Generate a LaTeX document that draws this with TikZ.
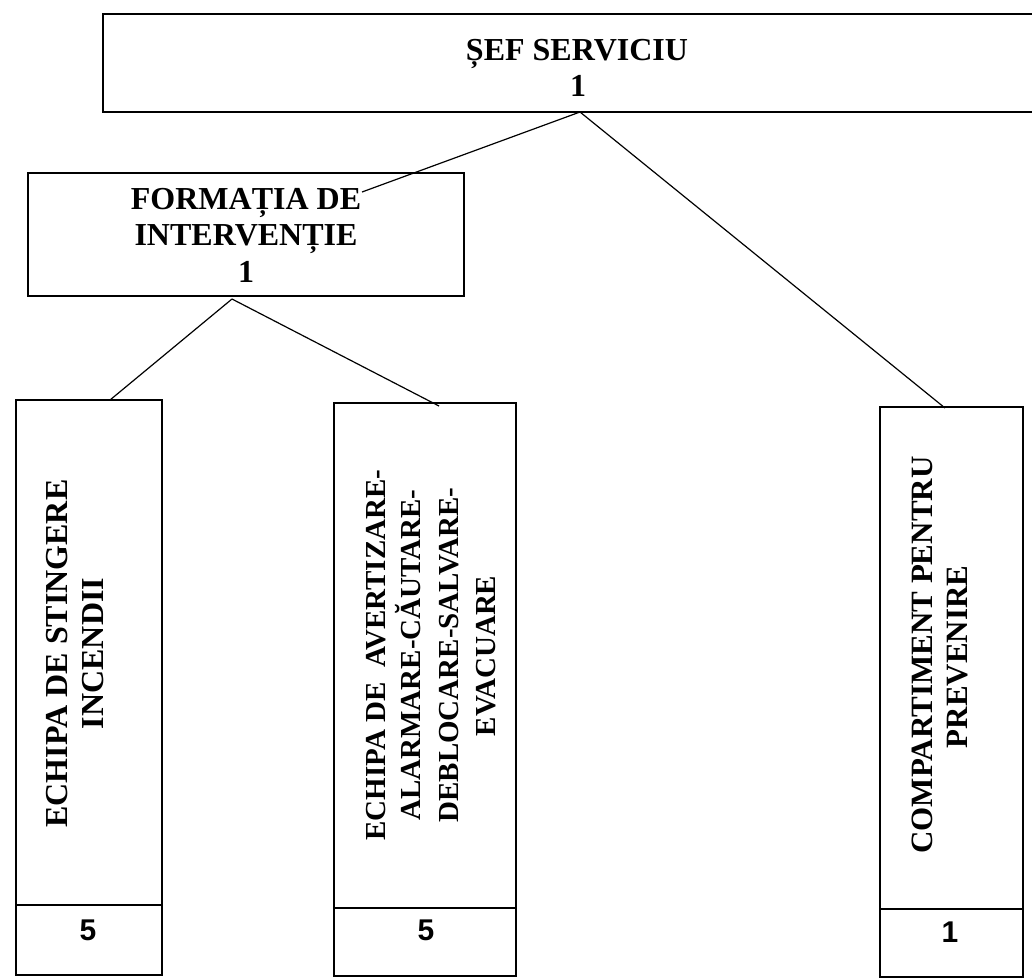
\documentclass[tikz,border=0pt]{standalone}
\usepackage{fontspec}
\setmainfont{Liberation Serif}
\newfontfamily\digitfont{Liberation Sans}
\begin{document}
\begin{tikzpicture}[x=1pt,y=-1pt,
  box/.style={draw=black, line width=1.8pt, inner sep=0pt, outer sep=0pt, rectangle},
  conn/.style={draw=black, line width=1.2pt},
  ttl/.style={font=\fontsize{32}{38}\selectfont\bfseries, inner sep=0pt, anchor=base},
  rotbig/.style={font=\fontsize{32}{38}\selectfont\bfseries, inner sep=0pt, anchor=base, rotate=90},
  rotmid/.style={font=\fontsize{29}{36}\selectfont\bfseries, inner sep=0pt, anchor=base, rotate=90},
  rotrgt/.style={font=\fontsize{31}{36}\selectfont\bfseries, inner sep=0pt, anchor=base, rotate=90},
  digit/.style={font=\fontsize{30}{36}\selectfont\digitfont\bfseries, inner sep=0pt, anchor=base}]
\useasboundingbox (0,0) rectangle (1032,978);
\clip (0,0) rectangle (1032,978);
\fill[white] (0,0) rectangle (1032,978);

% top box
\node[box, minimum width=948pt, minimum height=98pt] (sef) at (577,63) {};
\node[ttl] (sefa) at (577,60) {ȘEF SERVICIU};
\node[ttl] (sefb) at (578,96) {1};

% formatia box
\node[box, minimum width=436pt, minimum height=123pt] (form) at (246,234.5) {};
\node[ttl] (forma) at (246,209) {FORMAȚIA DE};
\node[ttl] (formb) at (246,245) {INTERVENȚIE};
\node[ttl] (formc) at (246,282) {1};

% left tall box
\node[box, minimum width=146pt, minimum height=505pt] (b1) at (89,652.5) {};
\node[box, minimum width=146pt, minimum height=70pt] (c1) at (89,940) {};
\node[rotbig] (b1a) at (67,653.5) {ECHIPA DE STINGERE};
\node[rotbig] (b1b) at (103,653.5) {INCENDII};
\node[digit] (c1a) at (88,940) {5};

% middle tall box
\node[box, minimum width=182pt, minimum height=505pt] (b2) at (425,655.5) {};
\node[box, minimum width=182pt, minimum height=68pt] (c2) at (425,942) {};
\node[rotmid] (b2a) at (385,655) {ECHIPA DE~~AVERTIZARE-};
\node[rotmid] (b2b) at (420,655) {ALARMARE-CĂUTARE-};
\node[rotmid] (b2c) at (458,655) {DEBLOCARE-SALVARE-};
\node[rotmid] (b2d) at (495,656) {EVACUARE};
\node[digit] (c2a) at (426,940) {5};

% right tall box
\node[box, minimum width=143pt, minimum height=502pt] (b3) at (951.5,658) {};
\node[box, minimum width=143pt, minimum height=68pt] (c3) at (951.5,943) {};
\node[rotrgt] (b3a) at (932,655) {COMPARTIMENT PENTRU};
\node[rotrgt] (b3b) at (967,657) {PREVENIRE};
\node[digit] (c3a) at (950,942) {1};

% connector end points
\coordinate (sj) at (580,112);
\coordinate (fe) at (362,192);
\coordinate (r3) at (945,408);
\coordinate (fj) at (232,299);
\coordinate (l1) at (110,400);
\coordinate (m2) at (439,406);

\draw[conn] (sj) -- (fe);
\draw[conn] (sj) -- (r3);
\draw[conn] (fj) -- (l1);
\draw[conn] (fj) -- (m2);
\end{tikzpicture}
\end{document}
